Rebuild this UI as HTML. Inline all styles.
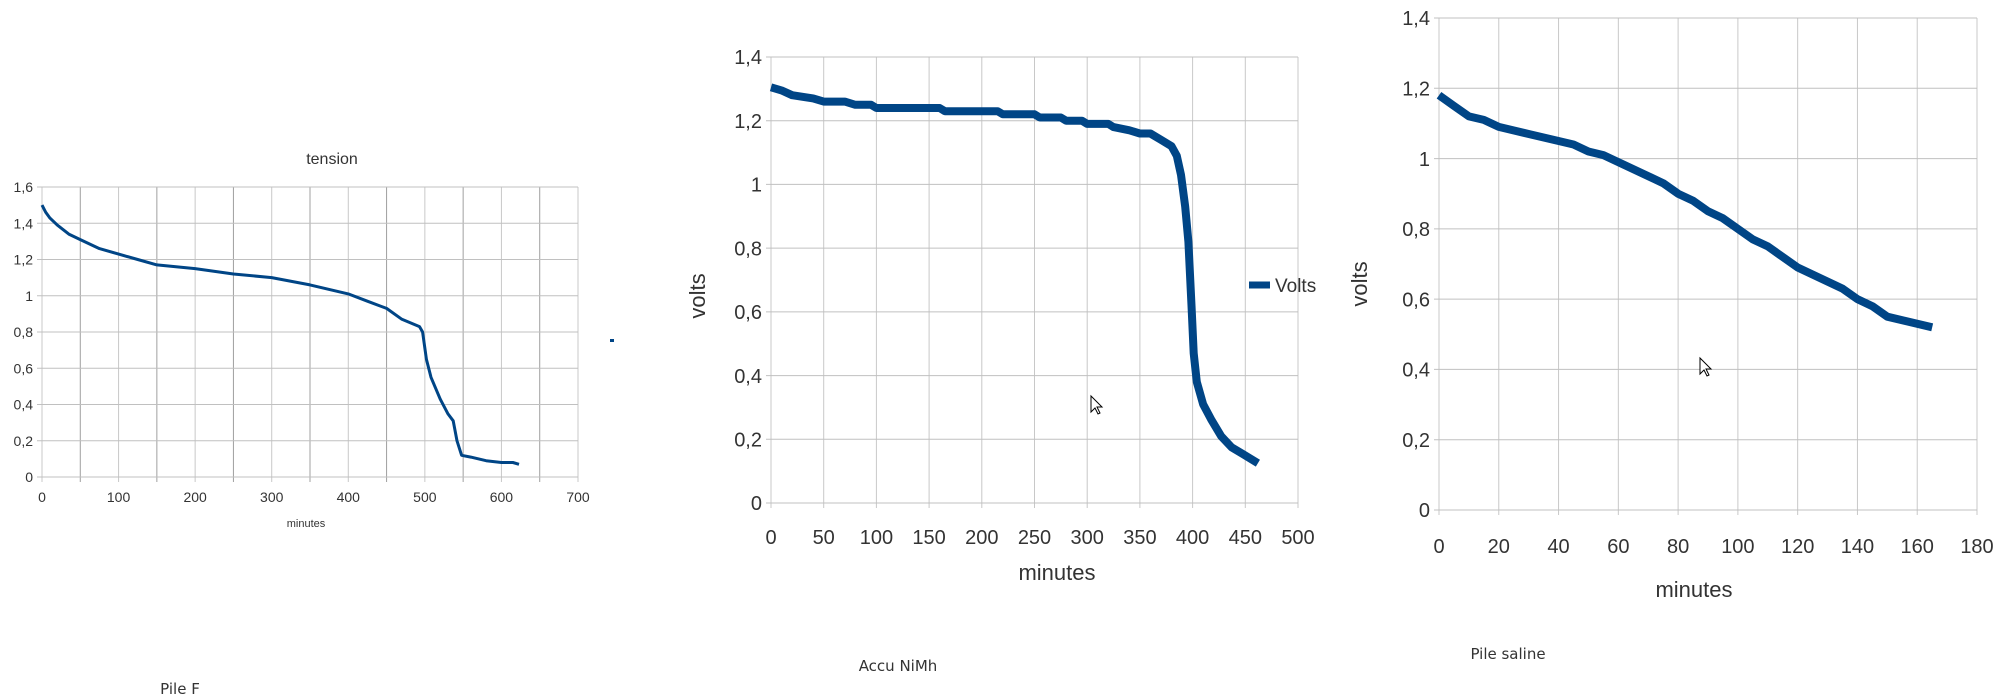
<!DOCTYPE html>
<html><head><meta charset="utf-8"><style>
body{margin:0;background:#fff;width:1996px;height:696px;overflow:hidden}
svg{position:absolute;left:0;top:0}
text{font-family:"Liberation Sans",sans-serif;fill:#333}
</style></head><body>
<svg id="s" width="1996" height="696" xmlns="http://www.w3.org/2000/svg"></svg>
<script>
const s=document.getElementById('s');let h='';
function chart(o){
 const X=v=>o.x0+(v-o.xmin)/(o.xmax-o.xmin)*(o.x1-o.x0);
 const Y=v=>o.y0+(v-o.ymin)/(o.ymax-o.ymin)*(o.y1-o.y0);
 for(let v=o.xmin;v<=o.xmax+1e-9;v+=o.xg){const dark=o.dark&&o.dark(v);
  h+=`<line x1="${X(v)}" y1="${o.y1}" x2="${X(v)}" y2="${o.y0+5}" stroke="${dark?'#a0a0a0':'#c8c8c8'}" stroke-width="1"/>`;}
 for(let v=o.ymin;v<=o.ymax+1e-9;v+=o.yt){
  h+=`<line x1="${o.x0-5}" y1="${Y(v)}" x2="${o.x1}" y2="${Y(v)}" stroke="#c0c0c0" stroke-width="1"/>`;
  h+=`<text x="${o.x0-9}" y="${Y(v)+o.fs*0.36}" font-size="${o.fs}" text-anchor="end">${(Math.round(v*10)/10).toString().replace('.',',')}</text>`;}
 for(let v=o.xmin;v<=o.xmax+1e-9;v+=o.xt){
  h+=`<text x="${X(v)}" y="${o.xly}" font-size="${o.fs}" text-anchor="middle">${v}</text>`;}
 const p=o.d.map(a=>X(a[0]).toFixed(1)+','+Y(a[1]).toFixed(1)).join(' ');
 h+=`<polyline points="${p}" fill="none" stroke="#004586" stroke-width="${o.lw}" stroke-linejoin="round"/>`;
}
chart({x0:42,x1:578,y0:477,y1:187,xmin:0,xmax:700,ymin:0,ymax:1.6,xg:50,xt:100,yt:0.2,fs:14,xly:502,lw:3,
 dark:v=>v%100==50,
 d:[[0,1.5],[5,1.46],[10,1.43],[20,1.39],[35,1.34],[50,1.31],[75,1.26],[100,1.23],[125,1.2],[150,1.17],[175,1.16],[200,1.15],[250,1.12],[300,1.1],[350,1.06],[400,1.01],[425,0.97],[450,0.93],[470,0.87],[493,0.83],[497,0.8],[502,0.65],[508,0.55],[520,0.43],[530,0.35],[537,0.31],[542,0.2],[548,0.12],[560,0.11],[580,0.09],[600,0.08],[615,0.08],[623,0.07]]});
h+=`<text x="332" y="164" font-size="16" text-anchor="middle">tension</text>`;
h+=`<text x="306" y="527" font-size="11" text-anchor="middle">minutes</text>`;
h+=`<rect x="610" y="339" width="4" height="3" fill="#004586"/>`;
h+=`<text x="180" y="694" font-size="15" text-anchor="middle" style="font-family:'DejaVu Sans',sans-serif" fill="#000">Pile F</text>`;

chart({x0:771,x1:1298,y0:503,y1:57,xmin:0,xmax:500,ymin:0,ymax:1.4,xg:50,xt:50,yt:0.2,fs:20,xly:544,lw:8,
 d:[[0,1.305],[10,1.295],[20,1.28],[30,1.275],[40,1.27],[50,1.26],[70,1.26],[80,1.25],[95,1.25],[100,1.24],[160,1.24],[165,1.23],[215,1.23],[220,1.22],[250,1.22],[255,1.21],[275,1.21],[280,1.2],[295,1.2],[300,1.19],[320,1.19],[325,1.18],[340,1.17],[350,1.16],[360,1.16],[370,1.14],[380,1.12],[385,1.09],[389,1.03],[393,0.93],[396,0.82],[399,0.62],[401,0.47],[404,0.38],[410,0.31],[418,0.26],[427,0.21],[437,0.175],[447,0.155],[462,0.125]]});
h+=`<text x="1057" y="580" font-size="22" text-anchor="middle">minutes</text>`;
h+=`<text transform="translate(705,296) rotate(-90)" font-size="22" text-anchor="middle">volts</text>`;
h+=`<line x1="1249" y1="285" x2="1270" y2="285" stroke="#004586" stroke-width="7"/>`;
h+=`<text x="1275" y="292" font-size="19">Volts</text>`;
h+=`<text x="898" y="671" font-size="15" text-anchor="middle" style="font-family:'DejaVu Sans',sans-serif" fill="#000">Accu NiMh</text>`;
h+=`<path d="M1091,396 l0,16 l4,-4 l3,6 l2,-1 l-3,-6 l5,0 z" fill="#fff" stroke="#000" stroke-width="1"/>`;

chart({x0:1439,x1:1977,y0:510,y1:18,xmin:0,xmax:180,ymin:0,ymax:1.4,xg:20,xt:20,yt:0.2,fs:20,xly:553,lw:8,
 d:[[0,1.18],[5,1.15],[10,1.12],[15,1.11],[20,1.09],[30,1.07],[40,1.05],[45,1.04],[50,1.02],[55,1.01],[60,0.99],[75,0.93],[80,0.9],[85,0.88],[90,0.85],[95,0.83],[100,0.8],[105,0.77],[110,0.75],[120,0.69],[135,0.63],[140,0.6],[145,0.58],[150,0.55],[165,0.52]]});
h+=`<text x="1694" y="597" font-size="22" text-anchor="middle">minutes</text>`;
h+=`<text transform="translate(1367,284) rotate(-90)" font-size="22" text-anchor="middle">volts</text>`;
h+=`<text x="1508" y="659" font-size="15" text-anchor="middle" style="font-family:'DejaVu Sans',sans-serif" fill="#000">Pile saline</text>`;
h+=`<path d="M1700,358 l0,16 l4,-4 l3,6 l2,-1 l-3,-6 l5,0 z" fill="#fff" stroke="#000" stroke-width="1"/>`;
s.innerHTML=h;
</script>
</body></html>
